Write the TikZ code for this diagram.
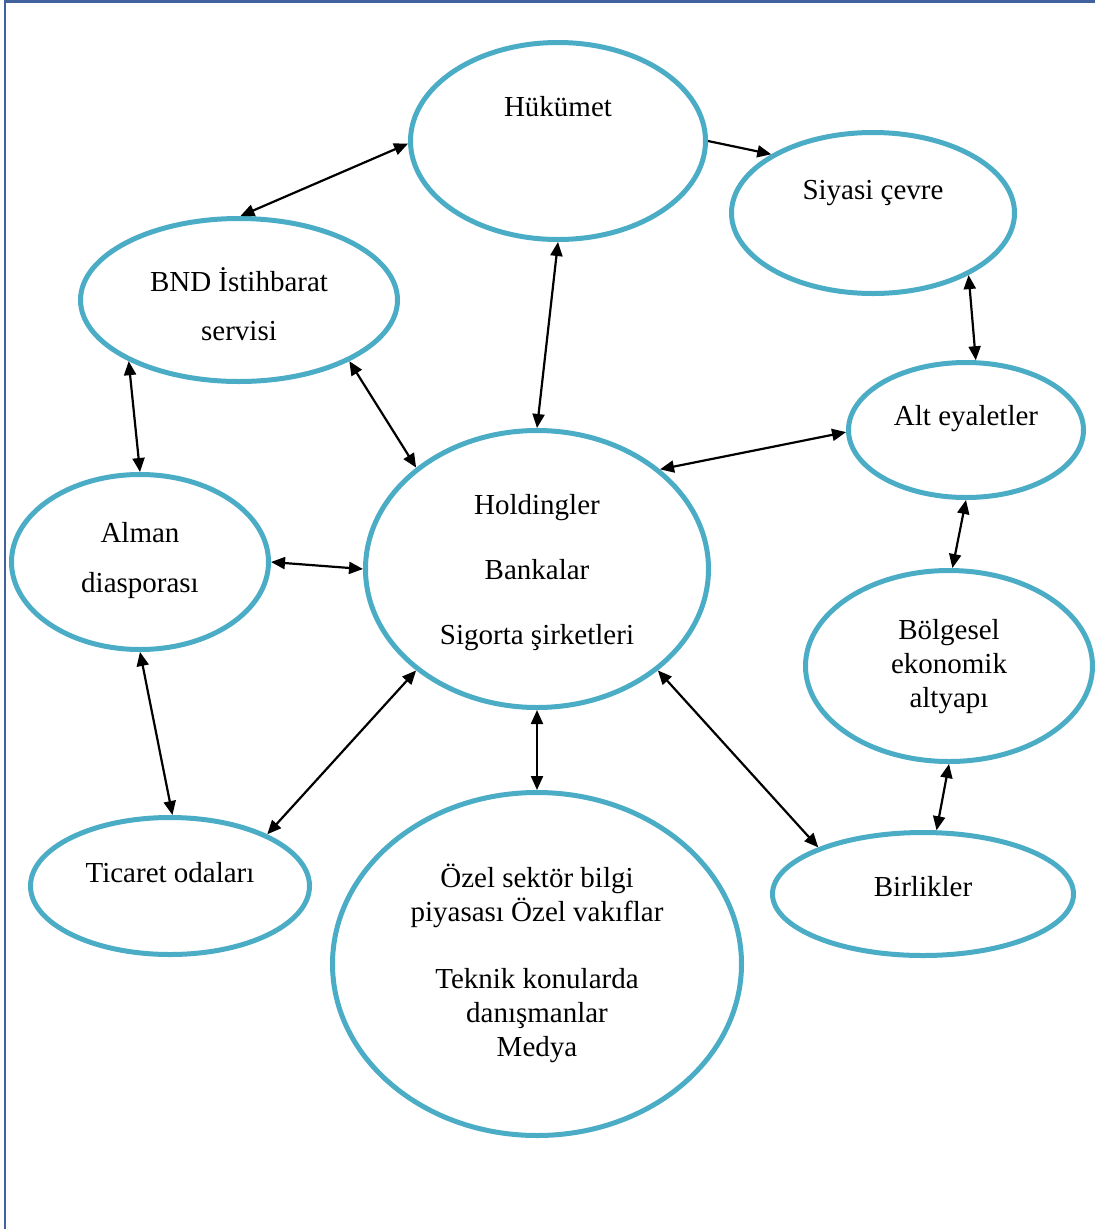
\documentclass[tikz,border=0pt]{standalone}
\usepackage{fontspec}
\setmainfont{Liberation Serif}
\usetikzlibrary{shapes.geometric,arrows.meta}
\definecolor{ovalblue}{RGB}{75,172,198}
\definecolor{framblue}{RGB}{66,98,158}

\tikzset{
  oval/.style={ellipse, draw=ovalblue, line width=5pt, inner sep=0pt, outer sep=2.5pt},
  lbl/.style={align=center, inner sep=0pt, font=\fontsize{29}{34}\selectfont},
  link/.style={{Triangle[length=14pt,width=12pt]}-{Triangle[length=14pt,width=12pt]}, line width=2.2pt},
  onelink/.style={-{Triangle[length=14pt,width=12pt]}, line width=2.2pt}
}

\begin{document}
\begin{tikzpicture}[x=1pt, y=-1pt]
    \useasboundingbox (0,0) rectangle (1095,1229);
    % frame
    \draw[framblue, line width=2.5pt] (5,1229) -- (5,1.5) -- (1095,1.5);

    % ovals
    \node[oval, minimum width=295pt, minimum height=197pt] (huk) at (558,141) {};
    \node[oval, minimum width=283pt, minimum height=161pt] (siy) at (873,213) {};
    \node[oval, minimum width=317pt, minimum height=163pt] (bnd) at (239,300) {};
    \node[oval, minimum width=235pt, minimum height=135pt] (alt) at (966,430) {};
    \node[oval, minimum width=343pt, minimum height=277pt] (hol) at (537,569) {};
    \node[oval, minimum width=257pt, minimum height=175pt] (alm) at (140,562) {};
    \node[oval, minimum width=287pt, minimum height=191pt] (bol) at (949,666) {};
    \node[oval, minimum width=279pt, minimum height=137pt] (tic) at (170,886) {};
    \node[oval, minimum width=409pt, minimum height=343pt] (oz) at (537,964) {};
    \node[oval, minimum width=301pt, minimum height=123pt] (bir) at (923,894) {};

    % texts
    \node[lbl] (huk-t) at (558,107) {Hükümet};
    \node[lbl] (siy-t) at (873,193) {Siyasi çevre};
    \node[lbl] (bnd-t) at (239,304) {BND İstihbarat\\[15pt]servisi};
    \node[lbl] (alt-t) at (966,419) {Alt eyaletler};
    \node[lbl] (hol-t) at (537,573) {Holdingler\\[31pt]Bankalar\\[31pt]Sigorta şirketleri};
    \node[lbl] (alm-t) at (140,561) {Alman\\[16pt]diasporası};
    \node[lbl] (bol-t) at (949,667) {Bölgesel\\ekonomik\\altyapı};
    \node[lbl] (tic-t) at (170,873) {Ticaret odaları};
    \node[lbl] (oz-t) at (537,963) {Özel sektör bilgi\\piyasası Özel vakıflar\\[33pt]Teknik konularda\\danışmanlar\\Medya};
    \node[lbl] (bir-t) at (923,887) {Birlikler};

    % arrows
    \draw[link] (huk.181) -- (bnd.89);
    \draw[onelink] (huk.0) -- (siy.150);
    \draw[link] (huk.270) -- (hol.90);
    \draw[link] (siy.327) -- (alt.82);
    \draw[link] (bnd.209) -- (alm.90);
    \draw[link] (bnd.331) -- (hol.140);
    \draw[link] (alt.181) -- (hol.39);
    \draw[link] (alm.0) -- (hol.180);
    \draw[link] (alt.270) -- (bol.88);
    \draw[link] (alm.270) -- (tic.88);
    \draw[link] (hol.220) -- (tic.28);
    \draw[link] (hol.270) -- (oz.90);
    \draw[link] (hol.320) -- (bir.156);
    \draw[link] (bol.270) -- (bir.78);
\end{tikzpicture}
\end{document}
